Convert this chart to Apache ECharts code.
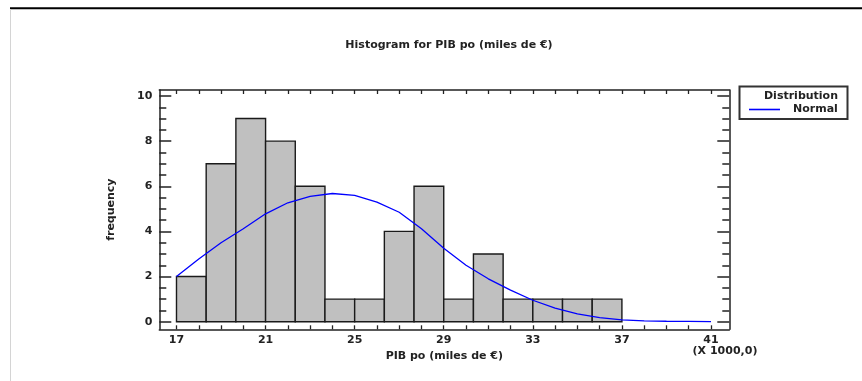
<!DOCTYPE html>
<html>
<head>
<meta charset="utf-8">
<script src="https://cdn.jsdelivr.net/npm/echarts@6/dist/echarts.min.js"></script>
<style>
  html, body { margin: 0; padding: 0; background: #fff; }
  #chart { width: 862px; height: 381px; }
</style>
</head>
<body>
<div id="chart"></div>
<script>
// histogram bins: 15 classes of width 4/3 starting at 17 (thousands of euro)
const binStart = 17
const binWidth = 4 / 3
const counts = [2, 7, 9, 8, 6, 1, 1, 4, 6, 1, 3, 1, 1, 1, 1]

// fitted normal curve
const curveX = [17, 18, 19, 20, 21, 22, 23, 24, 25, 26, 27, 28, 29, 30, 31, 32, 33, 34, 35, 36, 37, 38, 39, 40, 41]
const curveY = [2.0, 2.78, 3.5, 4.12, 4.78, 5.27, 5.55, 5.68, 5.6, 5.3, 4.85, 4.12, 3.25, 2.5, 1.9, 1.4, 0.95, 0.6, 0.35, 0.18, 0.08, 0.04, 0.02, 0.01, 0.0]

// axis ticks and labels
const xLabels = [17, 21, 25, 29, 33, 37, 41]
const xTicks = curveX
const yLabels = [0, 2, 4, 6, 8, 10]
const yMinor = [0, 0.5, 1, 1.5, 2, 2.5, 3, 3.5, 4, 4.5, 5, 5.5, 6, 6.5, 7, 7.5, 8, 8.5, 9, 9.5, 10]

const FONT = 'DejaVu Sans'
const INK = '#222'
const xMin = 16.228, xMax = 41.822
const yMin = -0.337, yMax = 10.266

const chart = echarts.init(document.getElementById('chart'))

const frameLine = { show: true, onZero: false, lineStyle: { color: INK, width: 1.5 } }
const xAxisBase = {
  type: 'value', min: xMin, max: xMax,
  axisLine: frameLine,
  axisTick: { inside: true, length: 4, customValues: xTicks, lineStyle: { color: INK, width: 1.3 } },
  splitLine: { show: false },
}
const yAxisBase = {
  type: 'value', min: yMin, max: yMax,
  splitLine: { show: false },
  axisLine: frameLine,
}

const option = {
  animation: false,
  backgroundColor: '#fff',
  grid: { left: 159.3, right: 132.7, top: 90, bottom: 51.7, containLabel: false },
  title: {
    text: 'Histogram for PIB po (miles de €)',
    left: 444, top: 35, textAlign: 'center',
    textStyle: { fontFamily: FONT, fontSize: 11, fontWeight: 'bold', color: INK },
  },
  legend: {
    data: [{ name: 'Normal', icon: 'rect' }],
    left: 749, top: 104, padding: 0,
    itemWidth: 31, itemHeight: 1.6,
    textStyle: { fontFamily: FONT, fontSize: 11, fontWeight: 'bold', color: INK, padding: [0, 0, 0, 8] },
  },
  xAxis: [
    {
      ...xAxisBase, position: 'bottom',
      axisLabel: {
        customValues: xLabels, margin: 5,
        fontFamily: FONT, fontSize: 11, fontWeight: 'bold', color: INK,
      },
      name: 'PIB po (miles de €)', nameLocation: 'middle', nameGap: 21,
      nameTextStyle: { fontFamily: FONT, fontSize: 11, fontWeight: 'bold', color: INK },
    },
    { ...xAxisBase, position: 'top', axisLabel: { show: false } },
  ],
  yAxis: [
    {
      ...yAxisBase, position: 'left',
      axisTick: { inside: true, length: 12, customValues: yLabels, lineStyle: { color: INK, width: 1.5 } },
      axisLabel: {
        customValues: yLabels, margin: 7,
        fontFamily: FONT, fontSize: 11, fontWeight: 'bold', color: INK,
      },
      name: 'frequency', nameLocation: 'middle', nameGap: 43, nameRotate: 90,
      nameTextStyle: { fontFamily: FONT, fontSize: 11, fontWeight: 'bold', color: INK },
    },
    {
      ...yAxisBase, position: 'left', axisLine: { show: false },
      axisTick: { inside: true, length: 7, customValues: yMinor, lineStyle: { color: INK, width: 1.5 } },
      axisLabel: { show: false },
    },
    {
      ...yAxisBase, position: 'right',
      axisTick: { inside: true, length: 12, customValues: yLabels, lineStyle: { color: INK, width: 1.5 } },
      axisLabel: { show: false },
    },
    {
      ...yAxisBase, position: 'right', axisLine: { show: false },
      axisTick: { inside: true, length: 7, customValues: yMinor, lineStyle: { color: INK, width: 1.5 } },
      axisLabel: { show: false },
    },
  ],
  series: [
    {
      name: 'Distribution',
      type: 'custom',
      xAxisIndex: 0, yAxisIndex: 0,
      encode: { x: [0, 1], y: 2 },
      data: counts.map((c, i) => [binStart + i * binWidth, binStart + (i + 1) * binWidth, c]),
      renderItem(params, api) {
        const p0 = api.coord([api.value(0), api.value(2)])
        const p1 = api.coord([api.value(1), 0])
        return {
          type: 'rect',
          shape: { x: p0[0], y: p0[1], width: p1[0] - p0[0], height: p1[1] - p0[1] },
          style: { fill: '#c0c0c0', stroke: '#1a1a1a', lineWidth: 1.4 },
        }
      },
      z: 2,
    },
    {
      name: 'Normal',
      type: 'line',
      xAxisIndex: 0, yAxisIndex: 0,
      data: curveX.map((x, i) => [x, curveY[i]]),
      symbol: 'none',
      smooth: false,
      color: '#0000ff',
      lineStyle: { color: '#0000ff', width: 1.3 },
      z: 3,
    },
  ],
  graphic: [
    { type: 'line', shape: { x1: 10, y1: 8.3, x2: 862, y2: 8.3 }, style: { stroke: '#000', lineWidth: 2 } },
    { type: 'line', shape: { x1: 10.5, y1: 9, x2: 10.5, y2: 381 }, style: { stroke: '#d4d4d4', lineWidth: 1 } },
    {
      type: 'rect', shape: { x: 739.5, y: 86.5, width: 108, height: 32.5 },
      style: { fill: 'none', stroke: '#333', lineWidth: 2 },
    },
    {
      type: 'text', x: 838, y: 95.7,
      style: {
        text: 'Distribution', align: 'right', verticalAlign: 'middle',
        font: 'bold 11px "DejaVu Sans"', fill: INK,
      },
    },
    {
      type: 'text', x: 725, y: 351,
      style: {
        text: '(X 1000,0)', align: 'center', verticalAlign: 'middle',
        font: 'bold 11px "DejaVu Sans"', fill: INK,
      },
    },
  ],
}

chart.setOption(option)
</script>
</body>
</html>
